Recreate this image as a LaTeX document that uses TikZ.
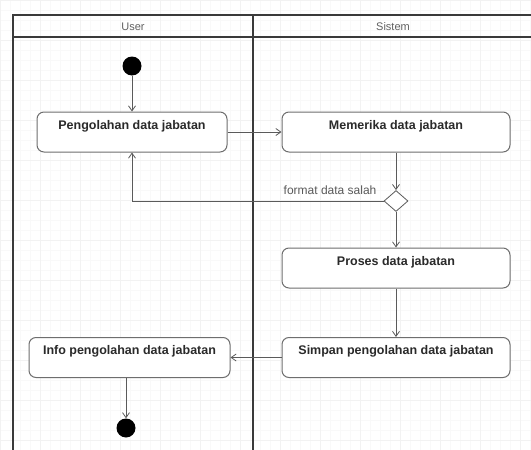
\documentclass[tikz,border=0pt]{standalone}
\usepackage{fontspec}
\setmainfont{Liberation Sans}
\usetikzlibrary{arrows.meta,shapes.geometric}
\definecolor{lane}{HTML}{3A3A3A}
\definecolor{edge}{HTML}{5A5A5A}
\definecolor{boxline}{HTML}{6E6E6E}
\definecolor{ink}{HTML}{2A2A2A}
\begin{document}
\begin{tikzpicture}[x=1pt,y=-1pt,
  act/.style={draw=boxline, line width=1pt, rounded corners=7pt, fill=white,
    minimum width=#1, minimum height=40pt, align=center, inner sep=0pt,
    font=\bfseries\fontsize{12.5}{15}\selectfont, text=ink},
  act/.default=228pt,
  flow/.style={draw=edge, line width=0.8pt, -{Straight Barb[length=5pt,width=7pt]}},
  dot/.style={circle, fill=black, minimum size=19pt, inner sep=0pt},
  choice/.style={diamond, draw=edge, line width=0.8pt, fill=white,
    minimum width=24pt, minimum height=21pt, inner sep=0pt, aspect=1.15},
  head/.style={font=\fontsize{11}{13}\selectfont, text=gray!75!black},
  lbl/.style={font=\fontsize{12}{14}\selectfont, text=gray!70!black, inner sep=1pt}]
  \clip (0,0) rectangle (531,450);
  \fill[white] (0,0) rectangle (531,450);
  % background grid
  \draw[gray!5, line width=0.4pt] (0,0) grid[step=10pt] (531,450);
  \draw[gray!10, line width=0.4pt] (0,0) grid[step=40pt] (531,450);
  % swimlanes
  \draw[lane, line width=1.4pt] (13,460) -- (13,15) -- (540,15);
  \draw[lane, line width=1.4pt] (13,37) -- (540,37);
  \draw[lane, line width=1.4pt] (253,15) -- (253,460);
  \node[head] (hUser) at (133,27) {User};
  \node[head] (hSys) at (393,27) {Sistem};
  % activities
  \node[dot] (start) at (132,66) {};
  \node[act=190pt] (a1) at (132,132) {Pengolahan data jabatan\\\mbox{}};
  \node[act] (a2) at (396,132) {Memerika data jabatan\\\mbox{}};
  \node[choice] (d) at (396,201) {};
  \node[act] (a3) at (396,268) {Proses data jabatan\\\mbox{}};
  \node[act] (a4) at (396,357.5) {Simpan pengolahan data jabatan\\\mbox{}};
  \node[act=201pt] (a5) at (129.5,357.5) {Info pengolahan data jabatan\\\mbox{}};
  \node[dot] (stop) at (126,428) {};
  % flows
  \draw[flow] (start) -- (a1);
  \draw[flow] (a1) -- (a2);
  \draw[flow] (a2) -- (d);
  \draw[flow] (d.west) -| (a1.south);
  \node[lbl, anchor=south east] (msg) at ([xshift=-6pt,yshift=5pt]d.west) {format data salah};
  \draw[flow] (d) -- (a3);
  \draw[flow] (a3) -- (a4);
  \draw[flow] (a4) -- (a5);
  \draw[flow] (a5.south -| stop) -- (stop);
\end{tikzpicture}
\end{document}
